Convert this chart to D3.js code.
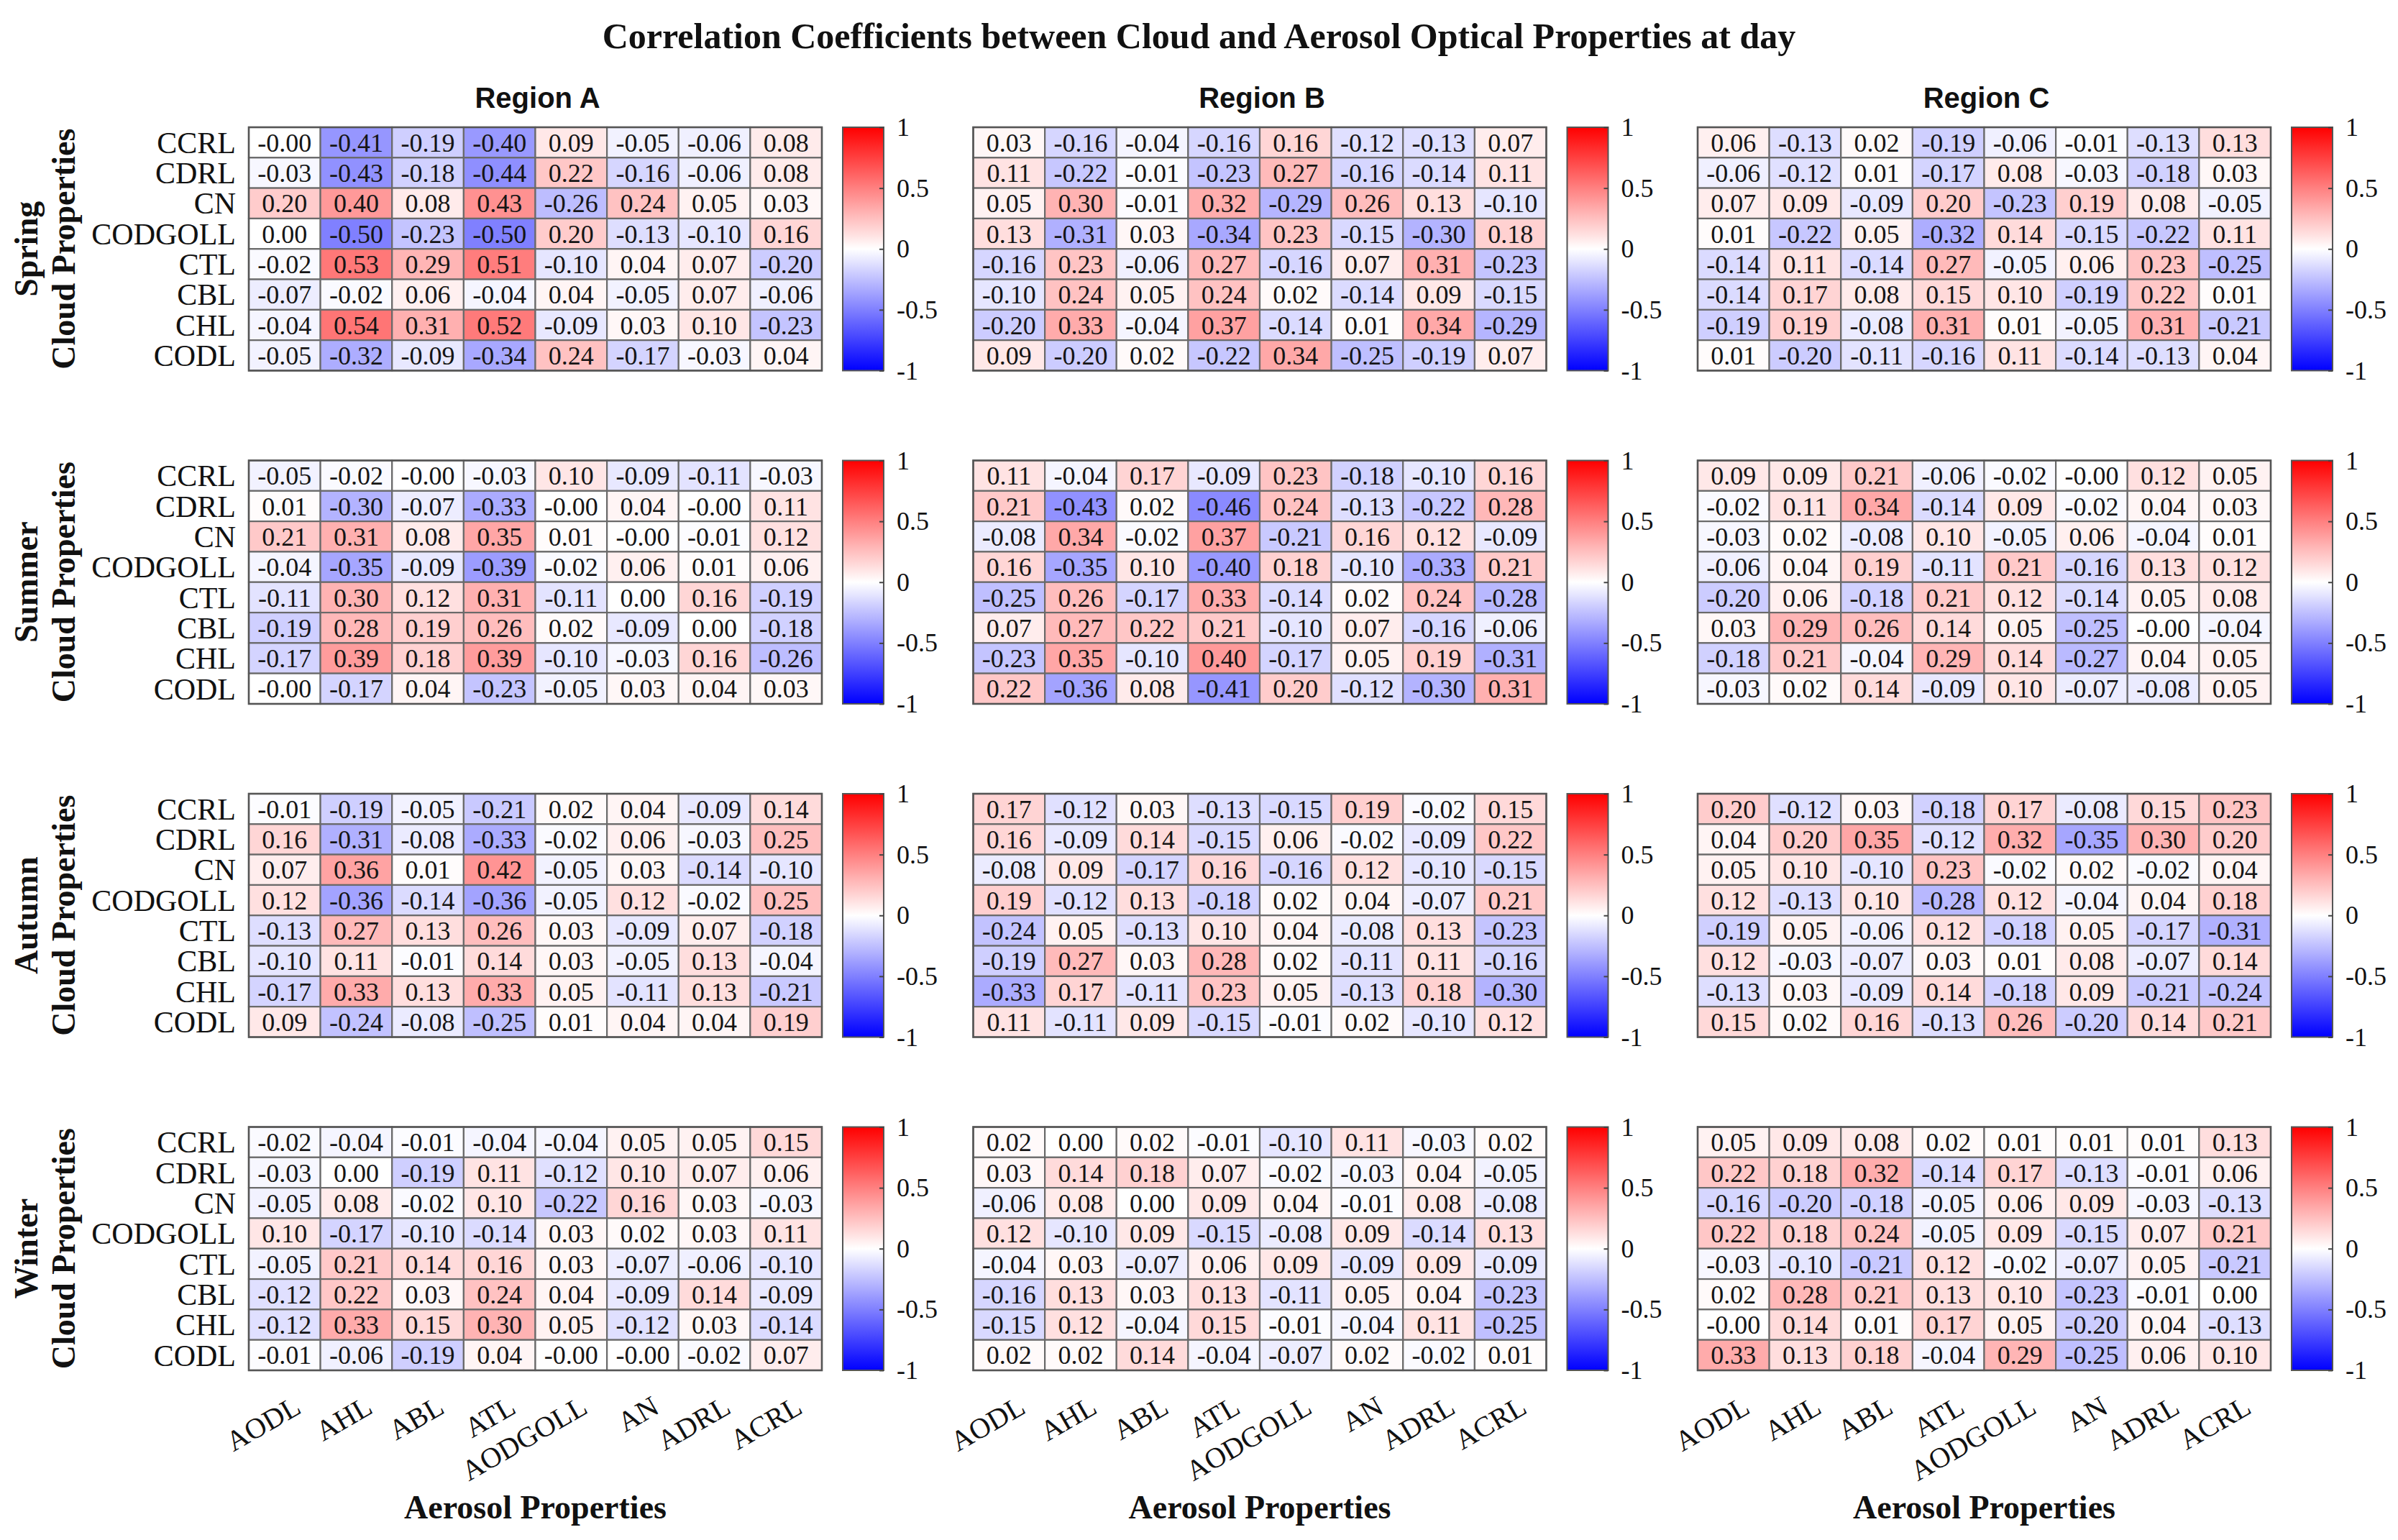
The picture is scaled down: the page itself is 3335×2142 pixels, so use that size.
<!DOCTYPE html>
<html>
<head>
<meta charset="utf-8">
<script src="https://cdn.jsdelivr.net/npm/d3@7/dist/d3.min.js"></script>
<style>
  html, body { margin: 0; padding: 0; background: #ffffff; }
  svg { display: block; }
</style>
</head>
<body>
<script>
// ---------------- DATA ----------------
const cloudProps = ["CCRL", "CDRL", "CN", "CODGOLL", "CTL", "CBL", "CHL", "CODL"];
const aerosolProps = ["AODL", "AHL", "ABL", "ATL", "AODGOLL", "AN", "ADRL", "ACRL"];
const seasons = ["Spring", "Summer", "Autumn", "Winter"];
const regions = ["Region A", "Region B", "Region C"];
const colorbarTicks = [1, 0.5, 0, -0.5, -1];
const titleText = "Correlation Coefficients between Cloud and Aerosol Optical Properties at day";
const yTitle = "Cloud Properties";
const xTitle = "Aerosol Properties";

// rows = cloudProps, columns = aerosolProps
const springA = [
  [-0.00, -0.41, -0.19, -0.40, 0.09, -0.05, -0.06, 0.08],
  [-0.03, -0.43, -0.18, -0.44, 0.22, -0.16, -0.06, 0.08],
  [0.20, 0.40, 0.08, 0.43, -0.26, 0.24, 0.05, 0.03],
  [0.00, -0.50, -0.23, -0.50, 0.20, -0.13, -0.10, 0.16],
  [-0.02, 0.53, 0.29, 0.51, -0.10, 0.04, 0.07, -0.20],
  [-0.07, -0.02, 0.06, -0.04, 0.04, -0.05, 0.07, -0.06],
  [-0.04, 0.54, 0.31, 0.52, -0.09, 0.03, 0.10, -0.23],
  [-0.05, -0.32, -0.09, -0.34, 0.24, -0.17, -0.03, 0.04]
];
const springB = [
  [0.03, -0.16, -0.04, -0.16, 0.16, -0.12, -0.13, 0.07],
  [0.11, -0.22, -0.01, -0.23, 0.27, -0.16, -0.14, 0.11],
  [0.05, 0.30, -0.01, 0.32, -0.29, 0.26, 0.13, -0.10],
  [0.13, -0.31, 0.03, -0.34, 0.23, -0.15, -0.30, 0.18],
  [-0.16, 0.23, -0.06, 0.27, -0.16, 0.07, 0.31, -0.23],
  [-0.10, 0.24, 0.05, 0.24, 0.02, -0.14, 0.09, -0.15],
  [-0.20, 0.33, -0.04, 0.37, -0.14, 0.01, 0.34, -0.29],
  [0.09, -0.20, 0.02, -0.22, 0.34, -0.25, -0.19, 0.07]
];
const springC = [
  [0.06, -0.13, 0.02, -0.19, -0.06, -0.01, -0.13, 0.13],
  [-0.06, -0.12, 0.01, -0.17, 0.08, -0.03, -0.18, 0.03],
  [0.07, 0.09, -0.09, 0.20, -0.23, 0.19, 0.08, -0.05],
  [0.01, -0.22, 0.05, -0.32, 0.14, -0.15, -0.22, 0.11],
  [-0.14, 0.11, -0.14, 0.27, -0.05, 0.06, 0.23, -0.25],
  [-0.14, 0.17, 0.08, 0.15, 0.10, -0.19, 0.22, 0.01],
  [-0.19, 0.19, -0.08, 0.31, 0.01, -0.05, 0.31, -0.21],
  [0.01, -0.20, -0.11, -0.16, 0.11, -0.14, -0.13, 0.04]
];
const summerA = [
  [-0.05, -0.02, -0.00, -0.03, 0.10, -0.09, -0.11, -0.03],
  [0.01, -0.30, -0.07, -0.33, -0.00, 0.04, -0.00, 0.11],
  [0.21, 0.31, 0.08, 0.35, 0.01, -0.00, -0.01, 0.12],
  [-0.04, -0.35, -0.09, -0.39, -0.02, 0.06, 0.01, 0.06],
  [-0.11, 0.30, 0.12, 0.31, -0.11, 0.00, 0.16, -0.19],
  [-0.19, 0.28, 0.19, 0.26, 0.02, -0.09, 0.00, -0.18],
  [-0.17, 0.39, 0.18, 0.39, -0.10, -0.03, 0.16, -0.26],
  [-0.00, -0.17, 0.04, -0.23, -0.05, 0.03, 0.04, 0.03]
];
const summerB = [
  [0.11, -0.04, 0.17, -0.09, 0.23, -0.18, -0.10, 0.16],
  [0.21, -0.43, 0.02, -0.46, 0.24, -0.13, -0.22, 0.28],
  [-0.08, 0.34, -0.02, 0.37, -0.21, 0.16, 0.12, -0.09],
  [0.16, -0.35, 0.10, -0.40, 0.18, -0.10, -0.33, 0.21],
  [-0.25, 0.26, -0.17, 0.33, -0.14, 0.02, 0.24, -0.28],
  [0.07, 0.27, 0.22, 0.21, -0.10, 0.07, -0.16, -0.06],
  [-0.23, 0.35, -0.10, 0.40, -0.17, 0.05, 0.19, -0.31],
  [0.22, -0.36, 0.08, -0.41, 0.20, -0.12, -0.30, 0.31]
];
const summerC = [
  [0.09, 0.09, 0.21, -0.06, -0.02, -0.00, 0.12, 0.05],
  [-0.02, 0.11, 0.34, -0.14, 0.09, -0.02, 0.04, 0.03],
  [-0.03, 0.02, -0.08, 0.10, -0.05, 0.06, -0.04, 0.01],
  [-0.06, 0.04, 0.19, -0.11, 0.21, -0.16, 0.13, 0.12],
  [-0.20, 0.06, -0.18, 0.21, 0.12, -0.14, 0.05, 0.08],
  [0.03, 0.29, 0.26, 0.14, 0.05, -0.25, -0.00, -0.04],
  [-0.18, 0.21, -0.04, 0.29, 0.14, -0.27, 0.04, 0.05],
  [-0.03, 0.02, 0.14, -0.09, 0.10, -0.07, -0.08, 0.05]
];
const autumnA = [
  [-0.01, -0.19, -0.05, -0.21, 0.02, 0.04, -0.09, 0.14],
  [0.16, -0.31, -0.08, -0.33, -0.02, 0.06, -0.03, 0.25],
  [0.07, 0.36, 0.01, 0.42, -0.05, 0.03, -0.14, -0.10],
  [0.12, -0.36, -0.14, -0.36, -0.05, 0.12, -0.02, 0.25],
  [-0.13, 0.27, 0.13, 0.26, 0.03, -0.09, 0.07, -0.18],
  [-0.10, 0.11, -0.01, 0.14, 0.03, -0.05, 0.13, -0.04],
  [-0.17, 0.33, 0.13, 0.33, 0.05, -0.11, 0.13, -0.21],
  [0.09, -0.24, -0.08, -0.25, 0.01, 0.04, 0.04, 0.19]
];
const autumnB = [
  [0.17, -0.12, 0.03, -0.13, -0.15, 0.19, -0.02, 0.15],
  [0.16, -0.09, 0.14, -0.15, 0.06, -0.02, -0.09, 0.22],
  [-0.08, 0.09, -0.17, 0.16, -0.16, 0.12, -0.10, -0.15],
  [0.19, -0.12, 0.13, -0.18, 0.02, 0.04, -0.07, 0.21],
  [-0.24, 0.05, -0.13, 0.10, 0.04, -0.08, 0.13, -0.23],
  [-0.19, 0.27, 0.03, 0.28, 0.02, -0.11, 0.11, -0.16],
  [-0.33, 0.17, -0.11, 0.23, 0.05, -0.13, 0.18, -0.30],
  [0.11, -0.11, 0.09, -0.15, -0.01, 0.02, -0.10, 0.12]
];
const autumnC = [
  [0.20, -0.12, 0.03, -0.18, 0.17, -0.08, 0.15, 0.23],
  [0.04, 0.20, 0.35, -0.12, 0.32, -0.35, 0.30, 0.20],
  [0.05, 0.10, -0.10, 0.23, -0.02, 0.02, -0.02, 0.04],
  [0.12, -0.13, 0.10, -0.28, 0.12, -0.04, 0.04, 0.18],
  [-0.19, 0.05, -0.06, 0.12, -0.18, 0.05, -0.17, -0.31],
  [0.12, -0.03, -0.07, 0.03, 0.01, 0.08, -0.07, 0.14],
  [-0.13, 0.03, -0.09, 0.14, -0.18, 0.09, -0.21, -0.24],
  [0.15, 0.02, 0.16, -0.13, 0.26, -0.20, 0.14, 0.21]
];
const winterA = [
  [-0.02, -0.04, -0.01, -0.04, -0.04, 0.05, 0.05, 0.15],
  [-0.03, 0.00, -0.19, 0.11, -0.12, 0.10, 0.07, 0.06],
  [-0.05, 0.08, -0.02, 0.10, -0.22, 0.16, 0.03, -0.03],
  [0.10, -0.17, -0.10, -0.14, 0.03, 0.02, 0.03, 0.11],
  [-0.05, 0.21, 0.14, 0.16, 0.03, -0.07, -0.06, -0.10],
  [-0.12, 0.22, 0.03, 0.24, 0.04, -0.09, 0.14, -0.09],
  [-0.12, 0.33, 0.15, 0.30, 0.05, -0.12, 0.03, -0.14],
  [-0.01, -0.06, -0.19, 0.04, -0.00, -0.00, -0.02, 0.07]
];
const winterB = [
  [0.02, 0.00, 0.02, -0.01, -0.10, 0.11, -0.03, 0.02],
  [0.03, 0.14, 0.18, 0.07, -0.02, -0.03, 0.04, -0.05],
  [-0.06, 0.08, 0.00, 0.09, 0.04, -0.01, 0.08, -0.08],
  [0.12, -0.10, 0.09, -0.15, -0.08, 0.09, -0.14, 0.13],
  [-0.04, 0.03, -0.07, 0.06, 0.09, -0.09, 0.09, -0.09],
  [-0.16, 0.13, 0.03, 0.13, -0.11, 0.05, 0.04, -0.23],
  [-0.15, 0.12, -0.04, 0.15, -0.01, -0.04, 0.11, -0.25],
  [0.02, 0.02, 0.14, -0.04, -0.07, 0.02, -0.02, 0.01]
];
const winterC = [
  [0.05, 0.09, 0.08, 0.02, 0.01, 0.01, 0.01, 0.13],
  [0.22, 0.18, 0.32, -0.14, 0.17, -0.13, -0.01, 0.06],
  [-0.16, -0.20, -0.18, -0.05, 0.06, 0.09, -0.03, -0.13],
  [0.22, 0.18, 0.24, -0.05, 0.09, -0.15, 0.07, 0.21],
  [-0.03, -0.10, -0.21, 0.12, -0.02, -0.07, 0.05, -0.21],
  [0.02, 0.28, 0.21, 0.13, 0.10, -0.23, -0.01, 0.00],
  [-0.00, 0.14, 0.01, 0.17, 0.05, -0.20, 0.04, -0.13],
  [0.33, 0.13, 0.18, -0.04, 0.29, -0.25, 0.06, 0.10]
];

const panels = [
  [springA, springB, springC],
  [summerA, summerB, summerC],
  [autumnA, autumnB, autumnC],
  [winterA, winterB, winterC]
];

// ---------------- LAYOUT ----------------
const W = 3335, H = 2142;
const serif = "'Liberation Serif', 'Times New Roman', serif";
const sans = "'Liberation Sans', Arial, sans-serif";
const hmLeft0 = 346, hmColStep = 1007.5, hmW = 797;
const hmTop0 = 177, hmRowStep = 463.5, hmH = 338.5;
const cbGap = 29, cbW = 57;

const svg = d3.select("body").append("svg")
  .attr("width", W).attr("height", H)
  .attr("viewBox", `0 0 ${W} ${H}`);

svg.append("rect").attr("width", W).attr("height", H).attr("fill", "#ffffff");

const color = d3.scaleLinear().domain([-1, 0, 1]).range(["#0000ff", "#ffffff", "#ff0000"]).clamp(true);

function fmt(v) {
  const neg = v < 0 || Object.is(v, -0);
  return (neg ? "-" : "") + Math.abs(v).toFixed(2);
}

// gradient for colorbar
const defs = svg.append("defs");
const grad = defs.append("linearGradient").attr("id", "cbgrad")
  .attr("x1", 0).attr("y1", 1).attr("x2", 0).attr("y2", 0);
d3.range(0, 1.0001, 0.05).forEach(t => {
  grad.append("stop").attr("offset", t).attr("stop-color", color(-1 + 2 * t));
});

// title
svg.append("text")
  .attr("x", W / 2).attr("y", 67)
  .attr("text-anchor", "middle")
  .attr("font-family", serif).attr("font-weight", "bold").attr("font-size", 50)
  .attr("fill", "#111")
  .text(titleText);

seasons.forEach((season, si) => {
  const top = hmTop0 + si * hmRowStep;
  const y = d3.scaleBand().domain(cloudProps).range([top, top + hmH]);
  const cy = top + hmH / 2;

  // season labels
  svg.append("text")
    .attr("transform", `translate(52,${cy}) rotate(-90)`)
    .attr("text-anchor", "middle")
    .attr("font-family", serif).attr("font-weight", "bold").attr("font-size", 46)
    .attr("fill", "#111")
    .text(season);
  svg.append("text")
    .attr("transform", `translate(104,${cy}) rotate(-90)`)
    .attr("text-anchor", "middle")
    .attr("font-family", serif).attr("font-weight", "bold").attr("font-size", 46)
    .attr("fill", "#111")
    .text(yTitle);

  regions.forEach((region, ri) => {
    const left = hmLeft0 + ri * hmColStep;
    const x = d3.scaleBand().domain(aerosolProps).range([left, left + hmW]);
    const data = panels[si][ri];
    const g = svg.append("g");

    const cells = [];
    data.forEach((row, i) => row.forEach((v, j) => cells.push({ r: cloudProps[i], c: aerosolProps[j], v })));

    g.selectAll("rect.cell").data(cells).join("rect")
      .attr("class", "cell")
      .attr("x", d => x(d.c)).attr("y", d => y(d.r))
      .attr("width", x.bandwidth()).attr("height", y.bandwidth())
      .attr("fill", d => color(d.v))
      .attr("stroke", "#6a6a6a").attr("stroke-width", 2.2);

    g.selectAll("text.val").data(cells).join("text")
      .attr("class", "val")
      .attr("x", d => x(d.c) + x.bandwidth() / 2)
      .attr("y", d => y(d.r) + y.bandwidth() / 2)
      .attr("dy", "0.35em")
      .attr("text-anchor", "middle")
      .attr("font-family", serif).attr("font-size", 36)
      .attr("fill", "#151515")
      .text(d => fmt(d.v));

    g.append("rect")
      .attr("x", left).attr("y", top).attr("width", hmW).attr("height", hmH)
      .attr("fill", "none").attr("stroke", "#555").attr("stroke-width", 2.5);

    // row labels on left column only
    if (ri === 0) {
      g.selectAll("text.rowlab").data(cloudProps).join("text")
        .attr("class", "rowlab")
        .attr("x", left - 18)
        .attr("y", d => y(d) + y.bandwidth() / 2)
        .attr("dy", "0.35em")
        .attr("text-anchor", "end")
        .attr("font-family", serif).attr("font-size", 42)
        .attr("fill", "#111")
        .text(d => d);
    }

    // region titles on top row
    if (si === 0) {
      svg.append("text")
        .attr("x", left + hmW / 2 + 3).attr("y", 150)
        .attr("text-anchor", "middle")
        .attr("font-family", sans).attr("font-weight", "bold").attr("font-size", 40)
        .attr("fill", "#111")
        .text(region);
    }

    // x labels on bottom row
    if (si === seasons.length - 1) {
      const bottom = top + hmH;
      g.selectAll("text.collab").data(aerosolProps).join("text")
        .attr("class", "collab")
        .attr("transform", d => `translate(${x(d) + x.bandwidth() / 2 + 18},${bottom + 46}) rotate(-30)`)
        .attr("dy", "0.35em")
        .attr("text-anchor", "end")
        .attr("font-family", serif).attr("font-size", 40)
        .attr("fill", "#111")
        .text(d => d);
      svg.append("text")
        .attr("x", left + hmW / 2).attr("y", 2112)
        .attr("text-anchor", "middle")
        .attr("font-family", serif).attr("font-weight", "bold").attr("font-size", 46)
        .attr("fill", "#111")
        .text(xTitle);
    }

    // colorbar
    const cbX = left + hmW + cbGap;
    const cbScale = d3.scaleLinear().domain([-1, 1]).range([top + hmH, top]);
    svg.append("rect")
      .attr("x", cbX).attr("y", top).attr("width", cbW).attr("height", hmH)
      .attr("fill", "url(#cbgrad)")
      .attr("stroke", "#555").attr("stroke-width", 2);
    const axis = d3.axisRight(cbScale).tickValues(colorbarTicks)
      .tickSize(-6).tickPadding(18)
      .tickFormat(d => d === 0 ? "0" : String(d));
    const ag = svg.append("g").attr("transform", `translate(${cbX + cbW},0)`).call(axis);
    ag.select(".domain").remove();
    ag.selectAll(".tick line").attr("stroke", "#444").attr("stroke-width", 2);
    ag.selectAll(".tick text")
      .attr("font-family", serif).attr("font-size", 36).attr("fill", "#111");
  });
});
</script>
</body>
</html>
